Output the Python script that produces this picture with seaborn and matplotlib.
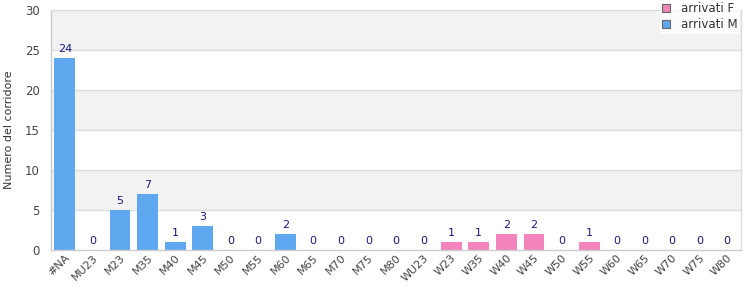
import matplotlib
matplotlib.use("Agg")
import matplotlib.pyplot as plt
import seaborn as sns
import pandas as pd
from matplotlib.patches import Patch

categories_m = ["#NA", "MU23", "M23", "M35", "M40", "M45", "M50", "M55", "M60", "M65", "M70", "M75", "M80"]
values_m = [24, 0, 5, 7, 1, 3, 0, 0, 2, 0, 0, 0, 0]
categories_f = ["WU23", "W23", "W35", "W40", "W45", "W50", "W55", "W60", "W65", "W70", "W75", "W80"]
values_f = [0, 1, 1, 2, 2, 0, 1, 0, 0, 0, 0, 0]
series_names = ["arrivati F", "arrivati M"]
colors = {"arrivati F": "#f283bb", "arrivati M": "#5fa8f0"}

df = pd.DataFrame({
    "cat": categories_m + categories_f,
    "val": values_m + values_f,
    "serie": ["arrivati M"] * len(categories_m) + ["arrivati F"] * len(categories_f),
})
order = categories_m + categories_f

sns.set_style("white")
plt.rcParams["font.family"] = ["DejaVu Sans"]

fig = plt.figure(figsize=(7.5, 3), dpi=100)
ax = fig.add_axes([51/750, 50/300, 690/750, 240/300])

for lo in (5, 15, 25):
    ax.axhspan(lo, lo + 5, color="#f2f2f2", zorder=0, lw=0)
for y in (5, 10, 15, 20, 25):
    ax.axhline(y, color="#dddddd", lw=1, zorder=0.5)

sns.barplot(data=df, x="cat", y="val", hue="serie", order=order,
            hue_order=["arrivati M", "arrivati F"], palette=colors,
            dodge=False, width=0.76, saturation=1, legend=False, ax=ax, zorder=2,
            linewidth=0, edgecolor="none")

for cont in ax.containers:
    ax.bar_label(cont, fmt="%d", padding=3, fontsize=8, color="#1a1a80")

ax.set_ylim(0, 30)
ax.set_xlim(-0.5, len(order) - 0.5)
ax.set_yticks([0, 5, 10, 15, 20, 25, 30])
ax.set_xlabel("")
ax.set_ylabel("Numero del corridore", fontsize=8, color="#333333")
ax.yaxis.set_label_coords(-0.054, 0.5)
ax.tick_params(axis="y", labelsize=8.5, colors="#444444", length=3, color="#dddddd", pad=5)
ax.tick_params(axis="x", labelsize=8, colors="#444444", length=0, pad=2)
for lab in ax.get_xticklabels():
    lab.set_rotation(45)
    lab.set_ha("right")
    lab.set_rotation_mode("anchor")
for side, sp in ax.spines.items():
    sp.set_color("#dddddd")
    sp.set_linewidth(1)
ax.spines["left"].set_color("#cccccc")
ax.spines["bottom"].set_color("#cccccc")

handles = [Patch(facecolor=colors[s], edgecolor="#666666", lw=0.8) for s in series_names]
leg = fig.legend(handles, series_names, loc="upper right", bbox_to_anchor=(740/750, 1.0),
                 fontsize=8.5, frameon=True, fancybox=False, handlelength=0.7, handleheight=0.7,
                 handletextpad=0.9, borderpad=0.2, labelspacing=0.25, borderaxespad=0.0)
leg.get_frame().set_edgecolor("white")
leg.get_frame().set_facecolor("white")
leg.get_frame().set_linewidth(0)
for t in leg.get_texts():
    t.set_color("#333333")

fig.savefig("out.png", dpi=100)
